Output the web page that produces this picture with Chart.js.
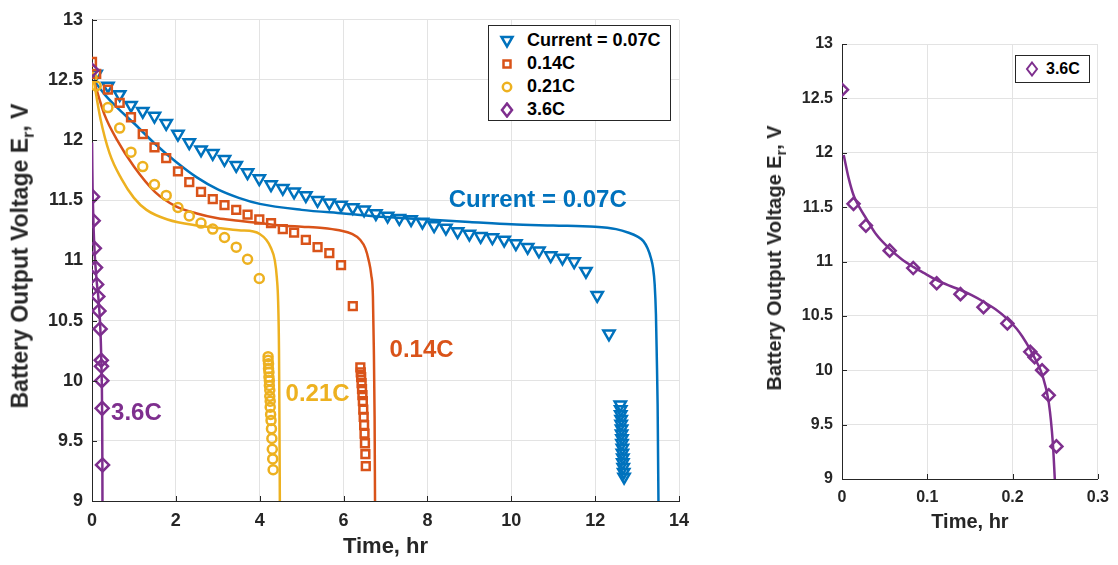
<!DOCTYPE html>
<html>
<head>
<meta charset="utf-8">
<script src="https://cdn.jsdelivr.net/npm/chart.js@4.4.0/dist/chart.umd.min.js"></script>
<style>
  body { margin: 0; background: #fff; width: 1118px; height: 565px; position: relative; overflow: hidden;
         font-family: "Liberation Sans", Arial, sans-serif; }
  canvas { position: absolute; top: 0; }
  #grafico-esq { left: 0; }
  #grafico-dir { left: 730px; }
  .ytitle { position: absolute; font-weight: bold; color: #262626; white-space: nowrap;
            transform: translate(-50%, -50%) rotate(-90deg); }
  .ytitle sub { font-size: 70%; }
  .legenda { position: absolute; border: 1px solid #262626; background: #fff; }
  .legenda .item { position: absolute; font-weight: bold; color: #000; white-space: nowrap; }
  .legenda svg { position: absolute; }
</style>
</head>
<body>
<canvas id="grafico-esq" width="700" height="565"></canvas>
<canvas id="grafico-dir" width="388" height="565"></canvas>

<div class="ytitle" style="left:22px; top:256px; font-size:23px;">Battery Output Voltage E<sub>r</sub>, V</div>
<div class="ytitle" style="left:776px; top:258px; font-size:20px;">Battery Output Voltage E<sub>r</sub>, V</div>

<div class="legenda" style="left:488px; top:25px; width:181px; height:94px;">
  <svg style="left:10px; top:7px" width="16" height="16"><polygon points="2.5,4 13.5,4 8,13.5" fill="none" stroke="#0072BD" stroke-width="2.5"/></svg>
  <div class="item" style="left:38px; top:4px; font-size:18px;">Current = 0.07C</div>
  <svg style="left:10px; top:30px" width="16" height="16"><rect x="4.5" y="4.5" width="7" height="7" fill="none" stroke="#D95319" stroke-width="2.5"/></svg>
  <div class="item" style="left:38px; top:27px; font-size:18px;">0.14C</div>
  <svg style="left:10px; top:53px" width="16" height="16"><circle cx="8" cy="8" r="4.2" fill="none" stroke="#EDB120" stroke-width="2.5"/></svg>
  <div class="item" style="left:38px; top:50px; font-size:18px;">0.21C</div>
  <svg style="left:10px; top:76px" width="16" height="16"><polygon points="8,1.5 13,8 8,14.5 3,8" fill="none" stroke="#7E2F8E" stroke-width="2.5"/></svg>
  <div class="item" style="left:38px; top:73px; font-size:18px;">3.6C</div>
</div>

<div class="legenda" style="left:1015px; top:55px; width:73px; height:26px;">
  <svg style="left:8px; top:5px" width="16" height="16"><polygon points="8,1.5 13,8 8,14.5 3,8" fill="none" stroke="#7E2F8E" stroke-width="2"/></svg>
  <div class="item" style="left:30px; top:4px; font-size:16px;">3.6C</div>
</div>

<script>
const t07 = [0.10, 0.38, 0.66, 0.93, 1.21, 1.49, 1.77, 2.05, 2.32, 2.60, 2.88, 3.16, 3.44, 3.71, 3.99,
  4.27, 4.55, 4.82, 5.10, 5.38, 5.66, 5.94, 6.22, 6.49, 6.77, 7.05, 7.33, 7.61, 7.88, 8.16,
  8.44, 8.72, 9.00, 9.27, 9.55, 9.83, 10.11, 10.39, 10.66, 10.94, 11.22, 11.50, 11.78, 12.05, 12.33,
  12.60, 12.61, 12.61, 12.62, 12.62, 12.63, 12.63, 12.64, 12.64, 12.65, 12.65, 12.66, 12.66, 12.67, 12.68, 12.69]
const v07 = [12.55, 12.45, 12.38, 12.29, 12.24, 12.20, 12.14, 12.05, 11.98, 11.92, 11.89, 11.84, 11.79, 11.73, 11.68,
  11.63, 11.60, 11.57, 11.54, 11.50, 11.48, 11.46, 11.44, 11.42, 11.39, 11.37, 11.35, 11.34, 11.32, 11.29,
  11.27, 11.24, 11.22, 11.20, 11.19, 11.17, 11.14, 11.11, 11.08, 11.04, 11.02, 10.99, 10.91, 10.71, 10.39,
  9.80, 9.76, 9.72, 9.68, 9.64, 9.60, 9.56, 9.52, 9.48, 9.44, 9.40, 9.36, 9.32, 9.28, 9.24, 9.20]

const t14 = [0.00, 0.10, 0.38, 0.66, 0.93, 1.21, 1.49, 1.77, 2.05, 2.32, 2.60, 2.88, 3.16, 3.44, 3.71,
  3.99, 4.27, 4.55, 4.82, 5.10, 5.38, 5.66, 5.94, 6.22,
  6.40, 6.41, 6.42, 6.43, 6.44, 6.45, 6.46, 6.47, 6.48, 6.49, 6.50, 6.51, 6.52, 6.53]
const v14 = [12.65, 12.55, 12.42, 12.31, 12.19, 12.05, 11.94, 11.85, 11.74, 11.65, 11.57, 11.51, 11.46, 11.42, 11.38,
  11.34, 11.31, 11.26, 11.23, 11.17, 11.11, 11.06, 10.96, 10.62,
  10.11, 10.07, 10.03, 9.98, 9.93, 9.88, 9.83, 9.76, 9.70, 9.63, 9.56, 9.48, 9.39, 9.29]

const t21 = [0.00, 0.10, 0.38, 0.66, 0.93, 1.21, 1.49, 1.77, 2.05, 2.32, 2.60, 2.88, 3.16, 3.44, 3.71, 3.99,
  4.20, 4.20, 4.21, 4.21, 4.22, 4.22, 4.23, 4.23, 4.24, 4.24, 4.25, 4.25, 4.26, 4.27, 4.28, 4.29, 4.30, 4.31, 4.32]
const v21 = [12.52, 12.45, 12.27, 12.10, 11.90, 11.78, 11.63, 11.54, 11.44, 11.37, 11.31, 11.26, 11.19, 11.11, 11.01, 10.85,
  10.20, 10.17, 10.14, 10.10, 10.07, 10.03, 10.00, 9.96, 9.92, 9.87, 9.83, 9.78, 9.72, 9.67, 9.60, 9.52, 9.43, 9.35, 9.26]

const t36 = [0.000, 0.0135, 0.028, 0.0559, 0.0835, 0.111, 0.1389, 0.1659, 0.1939, 0.2207, 0.2258, 0.2346, 0.2424, 0.2514]
const v36 = [12.58, 11.53, 11.33, 11.10, 10.94, 10.80, 10.70, 10.58, 10.43, 10.17, 10.12, 10.00, 9.77, 9.30]

// curvas do modelo
const modelo07T = [0.04, 0.3, 0.6, 1.0, 1.5, 2.0, 2.5, 3.0, 3.5, 4.0, 5.0, 6.0, 7.0, 8.0, 9.0, 10.0, 11.0, 12.0,
  12.5, 12.8, 13.0, 13.15, 13.25, 13.33, 13.38, 13.42, 13.45, 13.47, 13.49, 13.50, 13.51]
const modelo07V = [12.50, 12.38, 12.27, 12.14, 11.97, 11.82, 11.69, 11.59, 11.52, 11.47, 11.42, 11.39, 11.36, 11.34, 11.32, 11.30, 11.29, 11.28,
  11.26, 11.23, 11.20, 11.16, 11.10, 11.02, 10.94, 10.80, 10.55, 10.20, 9.80, 9.40, 9.00]

const modelo14T = [0.04, 0.3, 0.6, 1.0, 1.5, 2.0, 2.5, 3.0, 3.5, 4.0, 4.5, 5.0, 5.5, 5.9, 6.2, 6.4, 6.52, 6.6, 6.66, 6.70, 6.72, 6.74, 6.75]
const modelo14V = [12.50, 12.21, 12.00, 11.78, 11.57, 11.45, 11.39, 11.35, 11.33, 11.31, 11.29, 11.28, 11.27, 11.25, 11.22, 11.17, 11.10, 11.00, 10.88, 10.70, 10.30, 9.70, 9.00]

const modelo21T = [0.04, 0.2, 0.42, 0.7, 1.0, 1.3, 1.8, 2.5, 3.0, 3.5, 3.85, 4.0, 4.16, 4.26, 4.36, 4.41, 4.44, 4.46, 4.47, 4.48]
const modelo21V = [12.50, 12.18, 11.89, 11.68, 11.52, 11.42, 11.34, 11.29, 11.27, 11.25, 11.24, 11.22, 11.17, 11.11, 11.00, 10.85, 10.65, 10.25, 9.70, 9.00]

const modelo36T = [0.002, 0.008, 0.014, 0.021, 0.028, 0.04, 0.0554, 0.07, 0.0835, 0.097, 0.1106, 0.125, 0.1385, 0.152,
  0.166, 0.18, 0.194, 0.205, 0.2114, 0.2207, 0.228, 0.2347, 0.2425, 0.2472, 0.2495]
const modelo36V = [11.98, 11.76, 11.60, 11.49, 11.40, 11.25, 11.12, 11.02, 10.95, 10.89, 10.83, 10.78, 10.74, 10.69,
  10.63, 10.56, 10.47, 10.38, 10.31, 10.19, 10.08, 9.96, 9.70, 9.33, 9.00]

// rótulos das curvas (posição em coordenadas do gráfico)
const rotulos = [
  { text: 'Current = 0.07C', x: 10.63, y: 11.50, color: '#0072BD' },
  { text: '0.14C', x: 7.86, y: 10.25, color: '#D95319' },
  { text: '0.21C', x: 5.38, y: 9.89, color: '#EDB120' },
  { text: '3.6C', x: 1.06, y: 9.73, color: '#7E2F8E' }
]

const azul = '#0072BD', laranja = '#D95319', amarelo = '#EDB120', roxo = '#7E2F8E'
const corEixo = '#262626'

function pontos(t, v) {
  return t.map((x, i) => ({ x: x, y: v[i] }))
}

function marcadores(t, v, cor, estilo, raio, rot, ordem) {
  return {
    data: pontos(t, v),
    showLine: false,
    borderColor: cor,
    backgroundColor: 'rgba(0,0,0,0)',
    pointStyle: estilo,
    pointRadius: raio,
    pointBorderWidth: 2.5,
    pointRotation: rot,
    order: ordem
  }
}

function modelo(t, v, cor, ordem) {
  return {
    data: pontos(t, v),
    showLine: true,
    borderColor: cor,
    borderWidth: 2.5,
    pointRadius: 0,
    cubicInterpolationMode: 'monotone',
    order: ordem
  }
}

const marcasInternas = {
  id: 'marcasInternas',
  afterDraw(chart) {
    const { ctx, chartArea: a, scales: { x, y } } = chart
    ctx.save()
    ctx.strokeStyle = corEixo
    ctx.lineWidth = 1
    ctx.beginPath()
    x.ticks.forEach(t => {
      const px = Math.round(x.getPixelForValue(t.value)) + 0.5
      ctx.moveTo(px, a.bottom); ctx.lineTo(px, a.bottom - 5)
    })
    y.ticks.forEach(t => {
      const py = Math.round(y.getPixelForValue(t.value)) + 0.5
      ctx.moveTo(a.left, py); ctx.lineTo(a.left + 5, py)
    })
    ctx.stroke()
    ctx.restore()
  }
}

const textoCurvas = {
  id: 'textoCurvas',
  afterDatasetsDraw(chart, args, opts) {
    if (!opts.items) return
    const { ctx, scales: { x, y } } = chart
    ctx.save()
    ctx.font = 'bold 24px "Liberation Sans", Arial, sans-serif'
    ctx.textAlign = 'center'
    ctx.textBaseline = 'middle'
    opts.items.forEach(it => {
      ctx.fillStyle = it.color
      ctx.fillText(it.text, x.getPixelForValue(it.x), y.getPixelForValue(it.y))
    })
    ctx.restore()
  }
}

const formatar = v => Number(v.toFixed(2)).toString()

function opcoes(xMax, xStep, fonteTick, fonteTitulo, larguraY, alturaX, padding, padTickX, padTitulo, itens) {
  return {
    responsive: false,
    animation: false,
    layout: { padding: padding },
    plugins: {
      legend: { display: false },
      tooltip: { enabled: false },
      textoCurvas: { items: itens }
    },
    scales: {
      x: {
        type: 'linear', min: 0, max: xMax,
        afterFit: s => { s.height = alturaX },
        grid: { color: '#e3e3e3', drawTicks: false },
        border: { color: corEixo, width: 1 },
        ticks: {
          stepSize: xStep, padding: padTickX, color: corEixo,
          font: { size: fonteTick, weight: 'bold', family: '"Liberation Sans", Arial, sans-serif' },
          callback: formatar
        },
        title: {
          display: true, text: 'Time, hr', color: corEixo,
          padding: { top: 0, bottom: padTitulo },
          font: { size: fonteTitulo, weight: 'bold', family: '"Liberation Sans", Arial, sans-serif' }
        }
      },
      y: {
        type: 'linear', min: 9, max: 13,
        afterFit: s => { s.width = larguraY },
        grid: { color: '#e3e3e3', drawTicks: false },
        border: { color: corEixo, width: 1 },
        ticks: {
          stepSize: 0.5, padding: 9, color: corEixo,
          font: { size: fonteTick, weight: 'bold', family: '"Liberation Sans", Arial, sans-serif' },
          callback: formatar
        }
      }
    }
  }
}

new Chart(document.getElementById('grafico-esq'), {
  type: 'scatter',
  data: {
    datasets: [
      marcadores(t36, v36, roxo, 'rectRot', 6.5, 0, 0),
      modelo(modelo36T, modelo36V, roxo, 1),
      marcadores(t21, v21, amarelo, 'circle', 4.5, 0, 2),
      marcadores(t14, v14, laranja, 'rect', 5.5, 0, 3),
      marcadores(t07, v07, azul, 'triangle', 6.5, 180, 4),
      modelo(modelo21T, modelo21V, amarelo, 5),
      modelo(modelo14T, modelo14V, laranja, 6),
      modelo(modelo07T, modelo07V, azul, 7)
    ]
  },
  options: opcoes(14, 2, 18, 22, 92, 64, { left: 0, right: 21, top: 16, bottom: 0 }, 9, 5, rotulos),
  plugins: [marcasInternas, textoCurvas]
})

new Chart(document.getElementById('grafico-dir'), {
  type: 'scatter',
  data: {
    datasets: [
      marcadores(t36, v36, roxo, 'rectRot', 6, 0, 0),
      modelo(modelo36T, modelo36V, roxo, 1)
    ]
  },
  options: opcoes(0.3, 0.1, 16, 20, 112, 86, { left: 0, right: 19, top: 44, bottom: 0 }, 9, 31, null),
  plugins: [marcasInternas, textoCurvas]
})
</script>
</body>
</html>
